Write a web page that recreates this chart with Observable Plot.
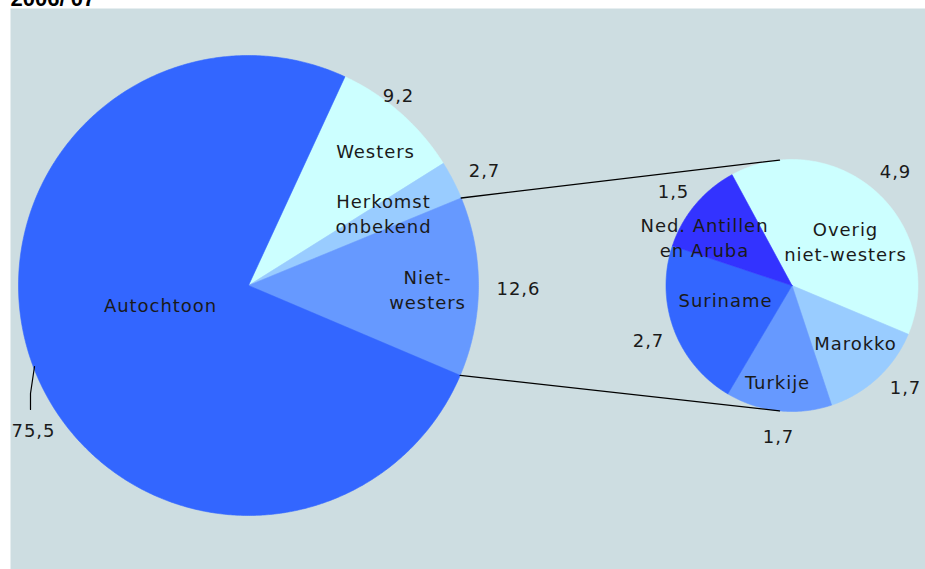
<!DOCTYPE html>
<html>
<head>
<meta charset="utf-8">
<script src="https://cdn.jsdelivr.net/npm/d3@7"></script>
<script src="https://cdn.jsdelivr.net/npm/@observablehq/plot@0.6"></script>
<style>
  html, body { margin: 0; padding: 0; background: #ffffff; overflow: hidden; }
  #chart svg { display: block; }
</style>
</head>
<body>
<div id="chart"></div>
<script>
// ---- Data ----
const titleText = "2006/'07";
const bigNames = ["Westers", "Herkomst onbekend", "Niet-westers", "Autochtoon"];
const bigLabels = ["Westers", "Herkomst\nonbekend", "Niet-\nwesters", "Autochtoon"];
const bigValues = [9.2, 2.7, 12.6, 75.5];
const smallNames = ["Overig niet-westers", "Marokko", "Turkije", "Suriname", "Ned. Antillen en Aruba"];
const smallLabels = ["Overig\nniet-westers", "Marokko", "Turkije", "Suriname", "Ned. Antillen\nen Aruba"];
const smallValues = [4.9, 1.7, 1.7, 2.7, 1.5];

// ---- Layout (pixels) ----
const W = 925, H = 569;
const big = {cx: 248, cy: 285, r: 230, start: 24.8};
const small = {cx: 791.5, cy: 285, r: 126, start: -28.4};
const bigNamePos = [[375, 151], [383, 213.5], [427, 289.5], [160, 305]];
const bigValuePos = [[398, 95], [484, 170], [518, 288], [33, 430]];
const smallNamePos = [[845, 241.5], [855, 343], [777, 382], [725, 300], [704, 237.5]];
const smallValuePos = [[895, 171], [905, 387], [778, 436], [648, 340], [673, 191]];
const leader75 = [[34, 366], [30, 393], [30, 409]];
const colorDomain = ["Autochtoon", "Westers", "Herkomst onbekend", "Niet-westers",
  "Overig niet-westers", "Marokko", "Turkije", "Suriname", "Ned. Antillen en Aruba"];
const colorRange = ["#3366ff", "#ccffff", "#99ccff", "#6699ff",
  "#ccffff", "#99ccff", "#6699ff", "#3366ff", "#3333ff"];

const rad = (deg) => deg * Math.PI / 180;
function pt(p, deg, r = p.r) {
  return [p.cx + r * Math.sin(rad(deg)), p.cy - r * Math.cos(rad(deg))];
}
function slices(p, names, values, prefix) {
  const pie = d3.pie().sort(null).value(d => d)
    .startAngle(rad(p.start)).endAngle(rad(p.start + 360));
  const arcs = pie(values);
  const pts = [];
  arcs.forEach((a, i) => {
    const key = prefix + i;
    const a0 = a.startAngle * 180 / Math.PI, a1 = a.endAngle * 180 / Math.PI;
    pts.push({key, name: names[i], x: p.cx, y: p.cy});
    const n = Math.max(2, Math.ceil((a1 - a0) / 0.5));
    for (let k = 0; k <= n; k++) {
      const [x, y] = pt(p, a0 + (a1 - a0) * k / n);
      pts.push({key, name: names[i], x, y});
    }
    pts.push({key, name: names[i], x: p.cx, y: p.cy});
  });
  return {pts, arcs};
}

const B = slices(big, bigNames, bigValues, "b");
const S = slices(small, smallNames, smallValues, "s");

// connector lines from Niet-westers slice edges to the top/bottom of the small pie
const nw = B.arcs[2];
const nwStart = pt(big, nw.startAngle * 180 / Math.PI);
const nwEnd = pt(big, nw.endAngle * 180 / Math.PI);
const sTop = pt(small, -5.7);
const sBot = pt(small, 185.7);
const connectors = [
  {k: "top", x: nwStart[0], y: nwStart[1]}, {k: "top", x: sTop[0], y: sTop[1]},
  {k: "bot", x: nwEnd[0], y: nwEnd[1]}, {k: "bot", x: sBot[0], y: sBot[1]}
];
const leader = leader75.map(([x, y]) => ({x, y}));

const fmt = v => v.toFixed(1).replace(".", ",");
const textData = [
  ...bigLabels.map((t, i) => ({t, x: bigNamePos[i][0], y: bigNamePos[i][1]})),
  ...bigValues.map((v, i) => ({t: fmt(v), x: bigValuePos[i][0], y: bigValuePos[i][1]})),
  ...smallLabels.map((t, i) => ({t, x: smallNamePos[i][0], y: smallNamePos[i][1]})),
  ...smallValues.map((v, i) => ({t: fmt(v), x: smallValuePos[i][0], y: smallValuePos[i][1]}))
];

const chart = Plot.plot({
  width: W, height: H, margin: 0,
  style: {background: "#ffffff", fontFamily: "DejaVu Sans", overflow: "visible"},
  x: {domain: [0, W], range: [0, W], axis: null},
  y: {domain: [0, H], range: [0, H], axis: null},
  color: {domain: colorDomain, range: colorRange},
  marks: [
    Plot.frame({fill: "#cddde1", stroke: "none", insetLeft: 10, insetTop: 8}),
    Plot.line(B.pts, {x: "x", y: "y", z: "key", fill: "name", stroke: "name", strokeWidth: 0.6, curve: "linear"}),
    Plot.line(S.pts, {x: "x", y: "y", z: "key", fill: "name", stroke: "name", strokeWidth: 0.6, curve: "linear"}),
    Plot.line(connectors, {x: "x", y: "y", z: "k", stroke: "#000", strokeWidth: 1.3}),
    Plot.line(leader, {x: "x", y: "y", stroke: "#000", strokeWidth: 1.2}),
    Plot.text(textData, {x: "x", y: "y", text: "t", fontSize: 18, fill: "#1a1a1a", dy: -2,
      lineHeight: 1.39, textAnchor: "middle", lineAnchor: "middle"}),
    Plot.text([titleText], {x: () => 10, y: () => 5, text: d => d, fontSize: 22,
      fontWeight: "bold", fill: "#000", textAnchor: "start", lineAnchor: "bottom",
      fontFamily: "Liberation Sans"})
  ]
});
chart.querySelectorAll("text").forEach(t => {
  t.style.letterSpacing = t.textContent.startsWith("2006") ? "0px" : "0.95px";
});
document.getElementById("chart").appendChild(chart);
</script>
</body>
</html>
